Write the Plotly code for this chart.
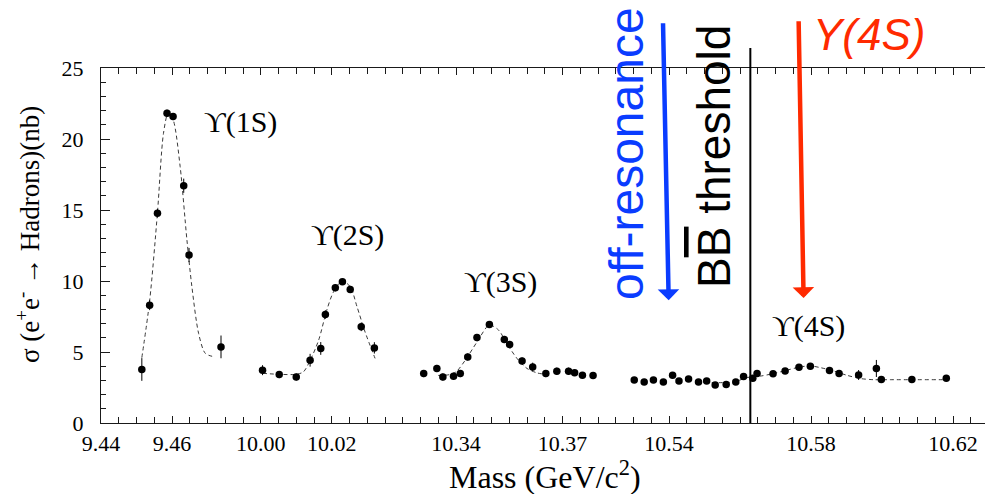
import plotly.graph_objects as go

# ---------------- data ----------------
# Upsilon(1S) scan
s1_mass = [9.4515, 9.4537, 9.4559, 9.4586, 9.4603, 9.4633, 9.4648, 9.4738]
s1_sigma = [3.77, 8.30, 14.77, 21.82, 21.58, 16.71, 11.83, 5.36]
s1_err = [0.80, 0.35, 0.30, 0.25, 0.25, 0.50, 0.50, 0.80]
f1_mass = [9.4515, 9.4537, 9.4559, 9.4576, 9.4590, 9.4604, 9.4623, 9.4642, 9.4656, 9.4675, 9.4694, 9.4722]
f1_sigma = [4.60, 8.60, 14.80, 20.40, 21.90, 21.30, 18.05, 12.90, 9.60, 6.30, 4.90, 4.65]

# Upsilon(2S) scan
s2_mass = [10.0005, 10.0052, 10.0100, 10.0139, 10.0169, 10.0182, 10.0210, 10.0230, 10.0252, 10.0283, 10.0320]
s2_sigma = [3.72, 3.41, 3.24, 4.42, 5.25, 7.64, 9.52, 9.94, 9.41, 6.77, 5.29]
s2_err = [0.35, 0.25, 0.25, 0.45, 0.45, 0.30, 0.25, 0.20, 0.25, 0.30, 0.40]
f2_mass = [10.0005, 10.0050, 10.0100, 10.0120, 10.0139, 10.0163, 10.0186, 10.0205, 10.0229, 10.0252, 10.0271, 10.0294, 10.0322]
f2_sigma = [3.50, 3.43, 3.43, 3.60, 4.40, 5.83, 7.95, 9.24, 10.00, 9.60, 8.20, 6.40, 4.55]

# Upsilon(3S) scan
s3_mass = [10.3309, 10.3346, 10.3363, 10.3393, 10.3412, 10.3433, 10.3459, 10.3494, 10.3536,
           10.3551, 10.3586, 10.3616, 10.3653, 10.3684, 10.3717, 10.3734, 10.3756, 10.3786]
s3_sigma = [3.48, 3.84, 3.24, 3.29, 3.48, 4.65, 6.02, 6.94, 5.88,
            5.53, 4.37, 3.95, 3.48, 3.65, 3.65, 3.53, 3.36, 3.34]
s3_err = [0.25, 0.25, 0.25, 0.25, 0.25, 0.25, 0.25, 0.20, 0.25,
          0.25, 0.25, 0.30, 0.25, 0.25, 0.25, 0.20, 0.20, 0.20]
f3_mass = [10.3350, 10.3380, 10.3400, 10.3426, 10.3459, 10.3494, 10.3520, 10.3543, 10.3572, 10.3600, 10.3628, 10.3645]
f3_sigma = [3.35, 3.40, 3.60, 4.42, 5.70, 6.90, 6.54, 5.60, 4.54, 3.84, 3.53, 3.45]

# Upsilon(4S) region
s4_mass = [10.5302, 10.5330, 10.5356, 10.5384, 10.5410, 10.5428, 10.5455, 10.5483, 10.5506,
           10.5530, 10.5561, 10.5588, 10.5610, 10.5636, 10.5648, 10.5693, 10.5727, 10.5766,
           10.5798, 10.5852, 10.5879, 10.5934, 10.5984, 10.5998, 10.6084, 10.6181]
s4_sigma = [3.02, 2.89, 3.02, 2.89, 3.36, 2.96, 3.10, 2.89, 2.96,
            2.68, 2.72, 2.89, 3.27, 3.15, 3.48, 3.46, 3.67, 3.92,
            4.00, 3.70, 3.48, 3.38, 3.84, 3.06, 3.06, 3.15]
s4_err = [0.15, 0.15, 0.15, 0.15, 0.15, 0.15, 0.15, 0.15, 0.15,
          0.15, 0.20, 0.15, 0.15, 0.15, 0.15, 0.15, 0.15, 0.15,
          0.15, 0.15, 0.15, 0.35, 0.60, 0.15, 0.15, 0.15]
f4_mass = [10.5500, 10.5582, 10.5620, 10.5657, 10.5694, 10.5732, 10.5770, 10.5799, 10.5826,
           10.5863, 10.5901, 10.5939, 10.5976, 10.6023, 10.6183]
f4_sigma = [2.85, 2.89, 3.20, 3.30, 3.48, 3.72, 3.95, 4.02, 3.90,
            3.67, 3.36, 3.13, 3.05, 3.05, 3.05]

# axis segments (broken mass axis) and tick labels
seg_ranges = [(9.4400, 9.4825), (9.9975, 10.0375), (10.3225, 10.3825), (10.5225, 10.6290)]
seg_tickvals = [[9.44, 9.46], [10.00, 10.02], [10.34, 10.37], [10.54, 10.58, 10.62]]
seg_ticktext = [["9.44", "9.46"], ["10.00", "10.02"], ["10.34", "10.37"], ["10.54", "10.58", "10.62"]]
y_tickvals = [0, 5, 10, 15, 20, 25]

peak_labels = ["ϒ(1S)", "ϒ(2S)", "ϒ(3S)", "ϒ(4S)"]
peak_label_mass = [9.4792, 10.0243, 10.3525, 10.5792]
peak_label_sigma = [21.2, 13.24, 9.92, 6.82]

bb_threshold = 10.5629
offres_mass = (10.5383, 10.5399)   # arrow tail, head
y4s_mass = (10.5765, 10.5779)      # arrow tail, head

# ---------------- layout constants ----------------
W, H = 985, 494
ML, MR, MT, MB = 101, 0, 68, 71
PW, PH = W - ML - MR, H - MT - MB


def px_x(px):
    return (px - ML) / PW


def px_y(py):
    return (H - MB - py) / PH


SERIF = "Liberation Serif, Times New Roman, serif"
SANS = "Liberation Sans, Arial, Helvetica, sans-serif"
AX = "#1a1a1a"
BLUE = "#0a3cff"
RED = "#ff2a00"

fig = go.Figure()

series = [
    (s1_mass, s1_sigma, s1_err, f1_mass, f1_sigma),
    (s2_mass, s2_sigma, s2_err, f2_mass, f2_sigma),
    (s3_mass, s3_sigma, s3_err, f3_mass, f3_sigma),
    (s4_mass, s4_sigma, s4_err, f4_mass, f4_sigma),
]

total = sum(b - a for a, b in seg_ranges)
start = 0.0
for i, ((a, b), (m, s, e, fm, fs)) in enumerate(zip(seg_ranges, series)):
    xa = "x" if i == 0 else f"x{i + 1}"
    fig.add_trace(go.Scatter(
        x=fm, y=fs, xaxis=xa, yaxis="y", mode="lines",
        line=dict(color="#3a3a3a", width=1, dash="4px,3px", shape="spline", smoothing=0.8),
        hoverinfo="skip", showlegend=False))
    fig.add_trace(go.Scatter(
        x=m, y=s, xaxis=xa, yaxis="y", mode="markers",
        marker=dict(color="black", size=7.5),
        error_y=dict(type="data", array=e, visible=True, color="black", thickness=1, width=0),
        showlegend=False))
    dom0 = start / total
    start += (b - a)
    dom1 = start / total
    axis = dict(
        domain=[dom0, min(dom1, 1.0)], range=[a, b], anchor="y",
        tickmode="array", tickvals=seg_tickvals[i], ticktext=seg_ticktext[i],
        ticks="inside", ticklen=7, tickwidth=1, tickcolor=AX,
        minor=dict(dtick=0.005, tick0=0, ticks="inside", ticklen=6, tickwidth=1, tickcolor=AX),
        showline=True, linecolor=AX, linewidth=1.2, mirror="ticks",
        showgrid=False, zeroline=False, automargin=False,
        tickfont=dict(family=SERIF, size=22, color="black"),
        ticklabelstandoff=0,
    )
    fig.update_layout(**{("xaxis" if i == 0 else f"xaxis{i + 1}"): axis})

yaxis_common = dict(
    range=[0, 25], domain=[0, 1],
    tickmode="array", tickvals=y_tickvals,
    ticks="inside", ticklen=9, tickwidth=1, tickcolor=AX,
    minor=dict(dtick=1, ticks="inside", ticklen=5, tickwidth=1, tickcolor=AX),
    showline=True, linecolor=AX, linewidth=1.2,
    showgrid=False, zeroline=False, automargin=False,
)
fig.update_layout(
    yaxis=dict(**yaxis_common, anchor="x", side="left",
               tickfont=dict(family=SERIF, size=22, color="black"), ticklabelstandoff=12),
    yaxis2=dict(**yaxis_common, anchor="x4", side="right", overlaying="y",
                showticklabels=False),
)

annotations = []
# peak labels
for i, (txt, m, s) in enumerate(zip(peak_labels, peak_label_mass, peak_label_sigma)):
    annotations.append(dict(
        text=txt, x=m, y=s, xref=("x" if i == 0 else f"x{i + 1}"), yref="y",
        showarrow=False, xanchor="center", yanchor="middle",
        font=dict(family=SERIF, size=30, color="black")))

# axis titles
annotations.append(dict(
    text="Mass (GeV/c<sup>2</sup>)", x=px_x(545), y=px_y(475), xref="paper", yref="paper",
    showarrow=False, xanchor="center", yanchor="middle",
    font=dict(family=SERIF, size=32, color="black")))
annotations.append(dict(
    text="σ (e<sup>+</sup>e<sup>-</sup> → Hadrons)(nb)", x=px_x(28), y=px_y(235),
    xref="paper", yref="paper", textangle=-90,
    showarrow=False, xanchor="center", yanchor="middle",
    font=dict(family=SERIF, size=27, color="black")))

# overlaid arrows and texts
annotations.append(dict(
    text="", x=offres_mass[1], y=8.65, ax=offres_mass[0], ay=28.26,
    xref="x4", yref="y", axref="x4", ayref="y",
    showarrow=True, arrowhead=1, arrowsize=0.8, arrowwidth=4.5, arrowcolor=BLUE, standoff=0))
annotations.append(dict(
    text="", x=y4s_mass[1], y=8.8, ax=y4s_mass[0], ay=28.4,
    xref="x4", yref="y", axref="x4", ayref="y",
    showarrow=True, arrowhead=1, arrowsize=0.8, arrowwidth=4.5, arrowcolor=RED, standoff=0))
annotations.append(dict(
    text="off-resonance", x=px_x(626), y=px_y(154), xref="paper", yref="paper",
    textangle=-90, showarrow=False, xanchor="center", yanchor="middle",
    font=dict(family=SANS, size=48, color=BLUE)))
annotations.append(dict(
    text="B<span style='text-decoration:overline'>B</span> threshold",
    x=px_x(714), y=px_y(157), xref="paper", yref="paper",
    textangle=-90, showarrow=False, xanchor="center", yanchor="middle",
    font=dict(family=SANS, size=46, color="black")))
annotations.append(dict(
    text="<i>Y(4S)</i>", x=px_x(869), y=px_y(35), xref="paper", yref="paper",
    showarrow=False, xanchor="center", yanchor="middle",
    font=dict(family=SANS, size=44, color=RED)))

fig.update_layout(
    annotations=annotations,
    shapes=[dict(type="line", xref="x4", yref="paper", x0=bb_threshold, x1=bb_threshold,
                 y0=0, y1=px_y(48), line=dict(color="black", width=2))],
    width=W, height=H,
    margin=dict(l=ML, r=MR, t=MT, b=MB, pad=0, autoexpand=False),
    paper_bgcolor="white", plot_bgcolor="white",
    showlegend=False,
)

fig.write_html("out.html", config={"displayModeBar": False},
               post_script="document.body.style.margin='0';document.body.style.padding='0';")
